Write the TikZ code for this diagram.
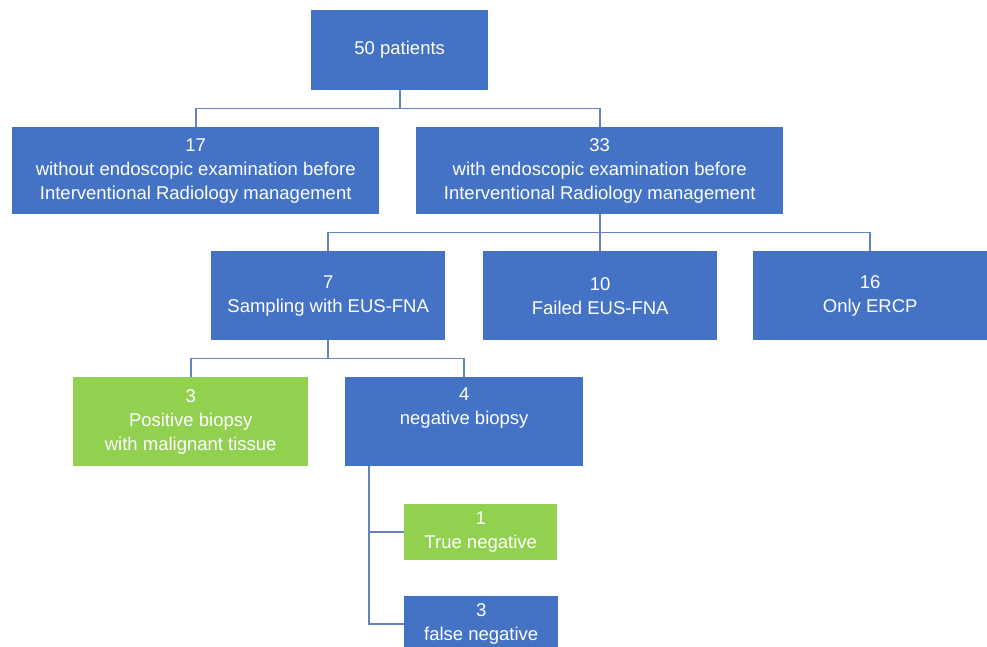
\documentclass[tikz,border=0pt]{standalone}
\usepackage{fontspec}
\setmainfont{Liberation Sans}
\definecolor{boxblue}{HTML}{4472C4}
\definecolor{boxgreen}{HTML}{92D050}
\definecolor{linkcol}{HTML}{6383BE}
\begin{document}
\begin{tikzpicture}[x=1pt,y=-1pt,
  box/.style={fill=boxblue, text=white, inner sep=0pt, align=center,
    font=\fontsize{18.5}{24}\selectfont, anchor=north west},
  gbox/.style={box, fill=boxgreen},
  link/.style={draw=linkcol, line width=1.6pt}]
\clip (0,0) rectangle (987,646);
\fill[white] (0,0) rectangle (987,646);
\node[box, minimum width=177pt, minimum height=80pt] (p50) at (311,10) {50 patients};
\node[box, minimum width=367pt, minimum height=87pt] (p17) at (12,127) {17\\without endoscopic examination before\\Interventional Radiology management};
\node[box, minimum width=367pt, minimum height=87pt] (p33) at (416,127) {33\\with endoscopic examination before\\Interventional Radiology management};
\node[box, minimum width=234pt, minimum height=89pt] (p7) at (211,251) {7\\Sampling with EUS-FNA};
\node[box, minimum width=234pt, minimum height=89pt] (p10) at (483,251) {10\\Failed EUS-FNA};
\node[box, minimum width=234pt, minimum height=89pt] (p16) at (753,251) {16\\Only ERCP};
\node[gbox, minimum width=235pt, minimum height=89pt] (pos) at (73,377) {3\\Positive biopsy\\with malignant tissue};
\node[box, minimum width=238pt, minimum height=89pt] (neg) at (345,377) {4\\negative biopsy\\\strut};
\node[gbox, minimum width=153pt, minimum height=56pt] (tn) at (404,504) {1\\True negative};
\node[box, minimum width=154pt, minimum height=56pt] (fn) at (404,596) {3\\false negative};
% connectors
\draw[link] (p50.south) -- ++(0,18) coordinate (j1);
\draw[link] (p17.north) |- (j1) -| (p33.north);
\draw[link] (p33.south) -- ++(0,18) coordinate (j2);
\draw[link] (p7.north) |- (j2) -| (p16.north);
\draw[link] (j2) -| (p10.north);
\draw[link] (p7.south) -- ++(0,18) coordinate (j3);
\draw[link] (pos.north) |- (j3) -| (neg.north);
\coordinate (j4) at ([xshift=24pt]neg.south west);
\draw[link] (j4) |- (fn.west);
\draw[link] (j4 |- tn.west) -- (tn.west);
\end{tikzpicture}
\end{document}
